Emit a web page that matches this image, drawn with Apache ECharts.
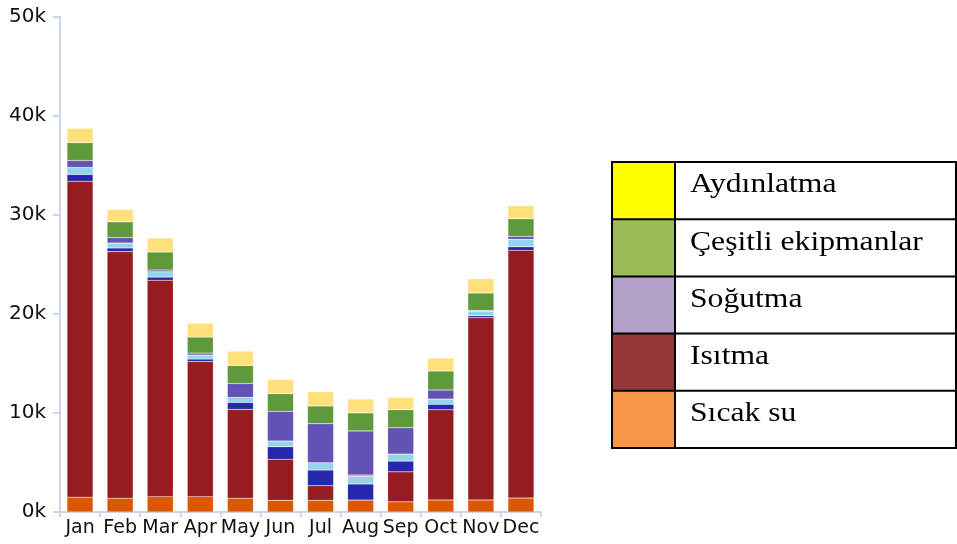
<!DOCTYPE html>
<html>
<head>
<meta charset="utf-8">
<script src="https://cdn.jsdelivr.net/npm/echarts@6/dist/echarts.min.js"></script>
<style>
  html, body { margin: 0; padding: 0; background: #fff; }
  #chart { width: 957px; height: 544px; }
</style>
</head>
<body>
<div id="chart"></div>
<script>
// Monthly energy use by end-use (kWh), stacked bottom to top
const months = ['Jan', 'Feb', 'Mar', 'Apr', 'May', 'Jun', 'Jul', 'Aug', 'Sep', 'Oct', 'Nov', 'Dec'];
const sicakSu   = [1500, 1400, 1550, 1550, 1400, 1180, 1180, 1210, 1030, 1210, 1210, 1410];
const isitma    = [31900, 24900, 21850, 13650, 8960, 4140, 1475, 0, 3030, 9120, 18410, 25020];
const fanlar    = [700, 370, 330, 250, 710, 1270, 1585, 1620, 1080, 550, 200, 360];
const pompalar  = [700, 500, 540, 400, 500, 580, 740, 740, 710, 530, 470, 750];
const isiAtimi  = [0, 0, 0, 0, 0, 0, 0, 170, 0, 0, 0, 0];
const sogutma   = [700, 540, 170, 200, 1410, 3000, 3940, 4450, 2660, 910, 80, 300];
const cesitli   = [1800, 1600, 1820, 1620, 1820, 1780, 1790, 1820, 1820, 1920, 1750, 1780];
const aydinlatma = [1450, 1250, 1410, 1410, 1450, 1450, 1445, 1410, 1250, 1310, 1445, 1310];

// Legend table rows (label, swatch colour)
const legendLabels = ['Aydınlatma', 'Çeşitli ekipmanlar', 'Soğutma', 'Isıtma', 'Sıcak su'];
const legendColors = ['#FFFF00', '#9BBB59', '#B1A0C7', '#953735', '#F79646'];

const stackSeries = [
  { name: 'Sıcak su', data: sicakSu, color: '#DC5800' },
  { name: 'Isıtma', data: isitma, color: '#951C20' },
  { name: 'Fanlar', data: fanlar, color: '#2328AF' },
  { name: 'Pompalar', data: pompalar, color: '#94D3E8' },
  { name: 'Isı atımı', data: isiAtimi, color: '#E07BA0' },
  { name: 'Soğutma', data: sogutma, color: '#6352B5' },
  { name: 'Çeşitli ekipmanlar', data: cesitli, color: '#5E9A3C' },
  { name: 'Aydınlatma', data: aydinlatma, color: '#FFE07A' }
];

const chart = echarts.init(document.getElementById('chart'), null, { renderer: 'canvas' });

// Legend drawn as a bordered table
const tbl = { left: 612, right: 956, top: 162, rowH: 57.2, swatchW: 63 };
const tableGraphics = [];
legendLabels.forEach((label, i) => {
  const y = tbl.top + i * tbl.rowH;
  tableGraphics.push({
    type: 'rect',
    shape: { x: tbl.left, y: y, width: tbl.swatchW, height: tbl.rowH },
    style: { fill: legendColors[i] },
    z: 10
  });
  tableGraphics.push({
    type: 'text',
    x: tbl.left + tbl.swatchW + 15,
    y: y + 23,
    scaleX: 1.13,
    style: {
      x: 0,
      y: 0,
      text: label,
      font: '28px "Liberation Serif", "Times New Roman", serif',
      fill: '#000',
      verticalAlign: 'middle',
      align: 'left'
    },
    z: 11
  });
});
const tblBottom = tbl.top + legendLabels.length * tbl.rowH;
for (let i = 0; i <= legendLabels.length; i++) {
  const y = tbl.top + i * tbl.rowH;
  tableGraphics.push({
    type: 'line',
    shape: { x1: tbl.left, y1: y, x2: tbl.right + 1, y2: y },
    style: { stroke: '#000', lineWidth: 2 },
    z: 12
  });
}
[tbl.left, tbl.left + tbl.swatchW, tbl.right].forEach(x => {
  tableGraphics.push({
    type: 'line',
    shape: { x1: x, y1: tbl.top - 1, x2: x, y2: tblBottom + 1 },
    style: { stroke: '#000', lineWidth: 2 },
    z: 12
  });
});

const axisColor = '#C9D7E8';
const option = {
  animation: false,
  backgroundColor: '#fff',
  grid: { left: 60, right: 416, top: 17, bottom: 32, containLabel: false },
  xAxis: {
    type: 'category',
    data: months,
    axisLine: { lineStyle: { color: axisColor, width: 2 } },
    axisTick: { show: true, length: 5, alignWithLabel: false, lineStyle: { color: axisColor, width: 2 } },
    axisLabel: { color: '#111', fontSize: 19, fontFamily: 'DejaVu Sans', margin: 7, interval: 0 }
  },
  yAxis: {
    type: 'value',
    min: 0,
    max: 50000,
    interval: 10000,
    axisLine: { show: true, lineStyle: { color: axisColor, width: 2 } },
    axisTick: { show: true, length: 7, lineStyle: { color: axisColor, width: 2 } },
    splitLine: { show: false },
    axisLabel: {
      color: '#111', fontSize: 20, fontFamily: 'DejaVu Sans', margin: 14,
      formatter: v => (v / 1000) + 'k'
    }
  },
  series: stackSeries.map(s => ({
    name: s.name,
    type: 'bar',
    stack: 'toplam',
    barWidth: '65%',
    data: s.data,
    itemStyle: { color: s.color, borderColor: 'rgba(255,255,255,0.35)', borderWidth: 0.5 }
  })),
  graphic: tableGraphics
};

chart.setOption(option);
</script>
</body>
</html>
